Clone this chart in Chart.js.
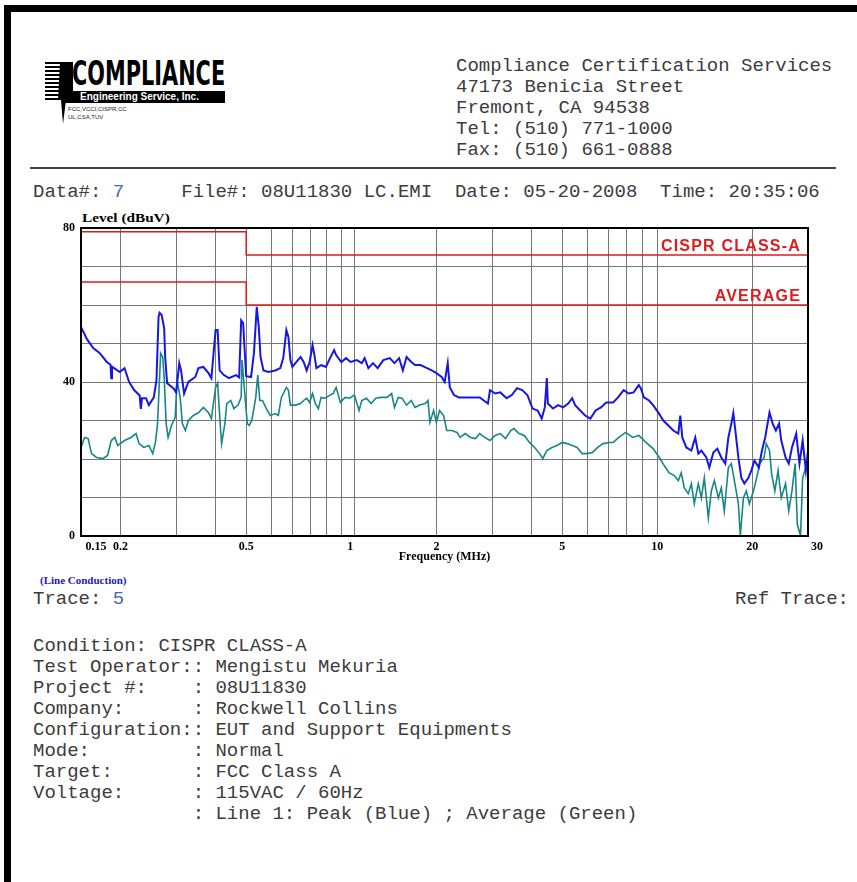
<!DOCTYPE html>
<html>
<head>
<meta charset="utf-8">
<script src="https://cdn.jsdelivr.net/npm/chart.js@4.4.1/dist/chart.umd.min.js"></script>
<style>
  html, body { margin: 0; padding: 0; background: #fff; }
  body { width: 857px; height: 882px; position: relative; overflow: hidden; }
  .frame { position: absolute; left: 4px; top: 5px; width: 900px; height: 900px;
           border-left: 7px solid #000; border-top: 7px solid #000; }
  .mono { position: absolute; margin: 0; font-family: "Liberation Mono", "Courier New", monospace;
          font-size: 19px; line-height: 21px; color: #3c3c3c; white-space: pre; }
  .num { color: #3d6fb0; }
  .rule { position: absolute; left: 30px; top: 167px; width: 806px; height: 2px; background: #444; }
  .serifb { position: absolute; font-family: "Liberation Serif", "Times New Roman", serif; font-weight: bold;
            font-size: 11px; color: #000; white-space: nowrap; transform-origin: 0 0; }
  #logo { position: absolute; left: 0; top: 0; }
  .stripes { position: absolute; left: 45px; top: 62px; width: 28px; height: 38px;
             background: repeating-linear-gradient(#000 0 2px, #fff 2px 4px); }
  #brand { position: absolute; left: 72px; top: 56px; font-family: "Liberation Sans Narrow", "DejaVu Sans Condensed", sans-serif;
           font-weight: bold; font-size: 38px; line-height: 38px; color: #000; transform-origin: 0 0; white-space: nowrap; }
  .bar { position: absolute; left: 62px; top: 91px; width: 163px; height: 12px; background: #000; color: #fff;
         font-family: "Liberation Sans Narrow", "Liberation Sans", sans-serif; font-weight: bold; font-size: 10px; line-height: 12px;
         padding-left: 18px; box-sizing: border-box; white-space: nowrap; }
  .small { position: absolute; left: 68px; top: 105px; font-family: "Liberation Sans", sans-serif; font-size: 6px; line-height: 8px; color: #222; }
  canvas#chart { position: absolute; left: 0; top: 200px; }
</style>
</head>
<body>
<div class="frame"></div>

<div id="logo">
  <div class="stripes"></div>
  <svg style="position:absolute;left:0;top:0" width="120" height="130">
    <polygon points="60,62 73,62 73,100 66,100 63,124 61,100 58,100" fill="#000"/>
  </svg>
  <span id="brand">COMPLIANCE</span>
  <div class="bar">Engineering Service, Inc.</div>
  <div class="small">FCC,VCCI,CISPR,CC<br>UL,CSA,TUV</div>
</div>

<pre class="mono" style="left:456px; top:56px;">Compliance Certification Services
47173 Benicia Street
Fremont, CA 94538
Tel: (510) 771-1000
Fax: (510) 661-0888</pre>
<div class="rule"></div>

<pre class="mono" style="left:33px; top:182px;">Data#: <span class="num">7</span>     File#: 08U11830 LC.EMI  Date: 05-20-2008  Time: 20:35:06</pre>

<div id="ylabel" class="serifb" style="left:82px; top:210px; font-size:13px;">Level (dBuV)</div>
<canvas id="chart" width="830" height="370"></canvas>
<div class="serifb" style="left:40px; top:574px; color:#1a1ac0;">(Line Conduction)</div>

<pre class="mono" style="left:33px; top:589px;">Trace: <span class="num">5</span></pre>
<pre class="mono" style="left:735px; top:589px;">Ref Trace:</pre>

<pre class="mono" style="left:33px; top:636px;">Condition: CISPR CLASS-A
Test Operator:: Mengistu Mekuria
Project #:    : 08U11830
Company:      : Rockwell Collins
Configuration:: EUT and Support Equipments
Mode:         : Normal
Target:       : FCC Class A
Voltage:      : 115VAC / 60Hz
              : Line 1: Peak (Blue) ; Average (Green)</pre>

<script>
// Frequency (MHz) / level (dBuV) pairs
const peakTrace = [
  [0.150,54.3],[0.157,51.0],[0.164,48.8],[0.172,47.5],[0.181,45.2],[0.186,44.5],[0.187,41.0],[0.188,44.0],
  [0.199,42.6],[0.206,43.6],[0.213,40.0],[0.221,37.9],[0.230,36.5],[0.232,33.0],[0.234,35.8],[0.241,35.8],
  [0.246,34.0],[0.255,36.0],[0.260,40.5],[0.264,57.0],[0.266,58.0],[0.270,57.4],[0.275,54.0],[0.277,46.5],
  [0.281,39.7],[0.294,38.4],[0.300,37.3],[0.307,44.9],[0.311,43.0],[0.318,37.0],[0.328,40.0],[0.345,41.3],
  [0.353,43.6],[0.366,43.9],[0.380,42.3],[0.388,41.0],[0.400,53.5],[0.406,53.5],[0.412,43.0],[0.425,41.8],
  [0.441,41.0],[0.464,41.8],[0.475,41.2],[0.482,56.0],[0.489,55.3],[0.493,50.0],[0.500,41.5],
  [0.518,41.3],[0.529,47.5],[0.540,59.5],[0.548,54.3],[0.555,46.5],[0.567,43.0],[0.588,42.6],[0.618,43.0],
  [0.641,43.6],[0.655,46.2],[0.670,53.5],[0.680,51.7],[0.690,45.7],[0.700,43.9],[0.721,45.2],[0.743,46.5],
  [0.760,45.2],[0.777,43.0],[0.794,45.2],[0.811,49.6],[0.822,47.0],[0.834,43.6],[0.863,44.4],[0.894,43.9],
  [0.921,46.2],[0.949,48.3],[0.963,47.0],[1.000,45.2],[1.035,46.2],[1.070,45.2],[1.120,45.7],[1.161,44.9],
  [1.185,46.2],[1.218,43.6],[1.260,44.9],[1.303,43.6],[1.358,45.7],[1.424,46.2],[1.473,44.9],[1.524,46.2],
  [1.566,43.0],[1.609,46.5],[1.665,45.2],
  [1.711,44.4],[1.782,44.4],[1.868,43.6],[1.933,43.0],[2.000,42.3],[2.077,41.3],[2.124,40.0],[2.172,44.9],
  [2.205,38.6],[2.272,36.6],[2.359,36.0],[2.468,36.0],[2.601,36.0],[2.742,36.0],[2.911,34.4],[2.955,37.9],
  [3.069,37.0],[3.187,37.3],[3.335,35.8],[3.464,36.6],[3.598,38.4],[3.737,37.9],[3.881,36.6],[4.030,33.1],
  [4.182,32.6],[4.309,30.5],[4.406,33.4],[4.472,41.0],[4.506,34.4],[4.676,33.1],[4.853,34.0],[5.037,33.4],
  [5.224,34.4],[5.378,35.8],[5.497,34.0],[5.702,32.6],[5.913,31.3],[6.140,30.5],[6.382,32.6],[6.633,33.4],
  [6.893,34.7],
  [7.25,34.7],[7.51,36.0],[7.83,37.9],[8.12,37.0],[8.42,37.3],[8.74,39.2],[8.87,38.4],[9.07,36.0],
  [9.42,35.2],[9.70,34.0],[10.07,32.1],[10.45,30.0],[10.84,28.7],[11.24,27.4],[11.66,26.6],[11.83,31.3],
  [12.0,25.6],[12.36,23.0],[12.82,22.2],[13.19,25.6],[13.49,21.4],[13.79,22.2],[14.3,20.4],[14.61,17.8],
  [15.05,21.7],[15.49,22.7],[15.95,20.4],[16.42,18.8],[16.79,25.6],[17.16,29.2],[17.41,31.9],[17.67,27.4],
  [18.06,20.4],[18.46,15.1],[18.87,13.6],[19.43,15.1],[19.85,17.0],[20.31,19.6],[20.96,17.8],[21.45,22.2],
  [21.96,25.6],[22.66,32.1],[23.19,29.2],[23.74,27.4],[24.3,29.2],[24.69,24.8],[25.47,20.4],[26.07,18.8],
  [26.69,23.0],[27.53,26.6],[28.19,18.8],[28.85,24.8],[29.54,17.0],[30.0,22.2]
];

const averageTrace = [
  [0.150,23.0],[0.154,25.6],[0.158,25.3],[0.162,21.4],[0.168,20.4],[0.176,20.1],[0.182,20.9],[0.187,24.8],
  [0.192,25.6],[0.196,23.5],[0.206,24.8],[0.216,25.6],[0.224,26.6],[0.229,24.0],[0.237,23.0],[0.246,23.5],
  [0.253,21.4],[0.258,24.3],[0.262,29.0],[0.268,47.5],[0.272,46.5],[0.275,41.3],[0.279,29.2],[0.283,25.6],
  [0.290,28.7],[0.298,30.8],[0.302,40.5],[0.309,36.0],[0.314,29.2],[0.321,27.4],[0.328,30.0],[0.340,31.3],
  [0.353,32.0],[0.366,33.4],[0.380,32.0],[0.388,30.5],[0.400,38.6],[0.406,39.7],[0.415,27.4],[0.418,24.0],
  [0.428,29.2],[0.434,34.4],[0.447,35.2],[0.457,33.1],[0.471,34.0],[0.482,36.0],[0.485,45.7],[0.496,36.0],
  [0.504,29.2],
  [0.511,28.7],[0.521,30.0],[0.536,36.0],[0.544,41.8],[0.552,35.2],[0.563,35.2],[0.579,33.1],[0.596,31.3],
  [0.618,31.8],[0.632,31.3],[0.646,36.0],[0.670,38.6],[0.680,37.9],[0.690,34.0],[0.716,34.0],[0.743,34.4],
  [0.760,35.2],[0.777,35.8],[0.794,34.7],[0.811,37.0],[0.828,34.4],[0.846,33.1],[0.863,36.0],[0.888,35.8],
  [0.921,36.6],[0.942,37.0],[0.963,38.6],[0.993,34.7],[1.028,36.0],[1.063,35.8],[1.100,36.6],[1.138,32.6],
  [1.161,35.2],[1.201,35.8],[1.243,34.4],[1.286,35.8],[1.330,36.0],[1.395,36.0],[1.443,37.0],[1.473,33.4],
  [1.514,36.0],[1.555,35.8],[1.609,34.0],[1.665,35.2],
  [1.711,33.4],[1.770,34.0],[1.843,34.4],[1.881,35.2],[1.907,29.5],[1.959,32.6],[2.000,29.5],[2.046,32.6],
  [2.108,31.3],[2.156,27.4],[2.238,27.4],[2.324,26.9],[2.377,25.6],[2.468,26.6],[2.562,25.6],[2.660,25.3],
  [2.742,26.6],[2.846,25.6],[2.955,24.8],[3.069,26.1],[3.187,26.6],[3.310,25.3],[3.438,27.4],[3.517,27.9],
  [3.653,26.6],[3.794,26.1],[3.940,24.3],[4.090,23.0],[4.245,21.4],[4.341,20.1],[4.472,22.2],[4.642,23.0],
  [4.818,23.5],[5.000,24.3],[5.186,24.0],[5.378,23.5],[5.578,23.0],[5.785,21.4],[6.000,21.4],[6.236,21.7],
  [6.481,23.0],[6.736,24.0],[7.05,24.3],
  [7.25,24.3],[7.56,25.6],[7.94,26.9],[8.36,25.6],[8.74,26.1],[9.21,24.3],[9.70,22.7],[10.15,20.4],
  [10.52,18.3],[10.91,16.4],[11.32,15.7],[11.66,14.4],[11.91,16.4],[12.18,12.5],[12.54,11.0],[12.82,13.6],
  [13.1,8.4],[13.49,13.6],[13.79,9.9],[14.09,15.1],[14.51,4.7],[14.83,11.7],[15.16,14.4],[15.61,9.9],
  [15.95,12.5],[16.3,6.5],[16.79,17.8],[17.16,18.8],[17.54,14.4],[18.06,8.4],[18.32,0.0],[18.73,9.9],
  [19.14,11.7],[19.57,8.4],[20.16,11.7],[20.63,15.1],[21.12,18.8],[21.79,20.4],[22.13,24.0],[22.66,22.2],
  [23.01,16.2],[23.56,11.7],[24.12,17.0],[24.69,9.9],[25.47,13.6],[26.07,6.5],[26.69,11.7],[27.32,18.8],
  [27.75,3.1],[28.41,0.0],[28.85,15.1],[29.77,18.8],[30.0,20.0]
];

// limit lines
const limitNames = ['CISPR CLASS-A', 'AVERAGE'];
const limitQP  = [[0.15,79],[0.5,79],[0.5,73],[30,73]];
const limitAvg = [[0.15,66],[0.5,66],[0.5,60],[30,60]];
const limitLabelLevels = [73, 60];

// axis ticks / grid (figure spaces nudge a few labels sideways like the original print)
const FS = '\u2007';
const xGridMHz = [0.15,0.2,0.3,0.4,0.5,0.6,0.7,0.8,0.9,1,1.1,2,3,4,5,6,7,8,9,10,20,30];
const xTickLabels = { 0.15: FS.repeat(5) + '0.15', 0.2: '0.2', 0.5: '0.5', 1: FS.repeat(3) + '1', 2: '2', 5: '5', 10: '10', 20: '20', 30: FS.repeat(3) + '30' };
const yLabelled = [0, 40, 80];

const toXY = arr => arr.map(p => ({ x: p[0], y: p[1] }));
const tickFont = { family: '"Liberation Serif", "Times New Roman", serif', weight: 'bold', size: 12 };

// frame round the plot
const frame = {
  id: 'frame',
  afterDatasetsDraw(chart) {
    const { ctx, chartArea: a } = chart;
    ctx.save();
    ctx.strokeStyle = '#000';
    ctx.lineWidth = 2;
    ctx.strokeRect(a.left, a.top, a.right - a.left, a.bottom - a.top);
    ctx.restore();
  }
};

// names of the limit lines, written above them at the right
const limitLabels = {
  id: 'limitLabels',
  afterDatasetsDraw(chart) {
    const { ctx, chartArea: a, scales: { y } } = chart;
    ctx.save();
    ctx.fillStyle = '#e01b1b';
    ctx.font = 'bold 16px "Liberation Sans", Arial, sans-serif';
    ctx.letterSpacing = '1.2px';
    ctx.textAlign = 'right';
    ctx.textBaseline = 'alphabetic';
    limitNames.forEach((name, i) => {
      ctx.fillText(name, a.right - 7, y.getPixelForValue(limitLabelLevels[i]) - 4);
    });
    ctx.restore();
  }
};

window.addEventListener('load', function () {
  // squeeze / stretch the logo word and the level label to their printed widths
  const brand = document.getElementById('brand');
  brand.style.transform = 'scaleX(' + (153 / brand.offsetWidth) + ') scaleY(0.9)';
  const ylabel = document.getElementById('ylabel');
  ylabel.style.transform = 'scaleX(' + (88 / ylabel.offsetWidth) + ')';

  const ctx = document.getElementById('chart').getContext('2d');
  new Chart(ctx, {
    type: 'line',
    data: {
      datasets: [
        { label: 'Peak', data: toXY(peakTrace), borderColor: '#1717e3', borderWidth: 2, pointRadius: 0, tension: 0 },
        { label: 'Average', data: toXY(averageTrace), borderColor: '#168787', borderWidth: 1.6, pointRadius: 0, tension: 0 },
        { label: limitNames[0], data: toXY(limitQP), borderColor: '#e01b1b', borderWidth: 1.5, pointRadius: 0 },
        { label: limitNames[1], data: toXY(limitAvg), borderColor: '#e01b1b', borderWidth: 1.5, pointRadius: 0 }
      ]
    },
    options: {
      responsive: false,
      animation: false,
      devicePixelRatio: 1,
      layout: { padding: { top: 28, right: 22, left: 0, bottom: 0 } },
      plugins: { legend: { display: false }, tooltip: { enabled: false } },
      scales: {
        x: {
          type: 'logarithmic',
          min: 0.15,
          max: 30,
          afterBuildTicks: s => { s.ticks = xGridMHz.map(v => ({ value: v })); },
          afterFit: s => { s.height = 34; },
          ticks: {
            autoSkip: false,
            maxRotation: 0,
            padding: 4,
            color: '#000',
            font: tickFont,
            callback: v => xTickLabels[v] || ''
          },
          grid: { color: '#777', lineWidth: 1, drawTicks: false },
          border: { color: '#000', width: 2 },
          title: { display: true, text: 'Frequency (MHz)', color: '#000', font: tickFont, padding: { top: 0, bottom: 6 } }
        },
        y: {
          min: 0,
          max: 80,
          afterFit: s => { s.width = 81; },
          ticks: {
            stepSize: 10,
            padding: 6,
            color: '#000',
            font: tickFont,
            callback: v => yLabelled.includes(v) ? String(v) : ''
          },
          grid: { color: '#777', lineWidth: 1, drawTicks: false },
          border: { color: '#000', width: 2 }
        }
      }
    },
    plugins: [frame, limitLabels]
  });
});
</script>
</body>
</html>
